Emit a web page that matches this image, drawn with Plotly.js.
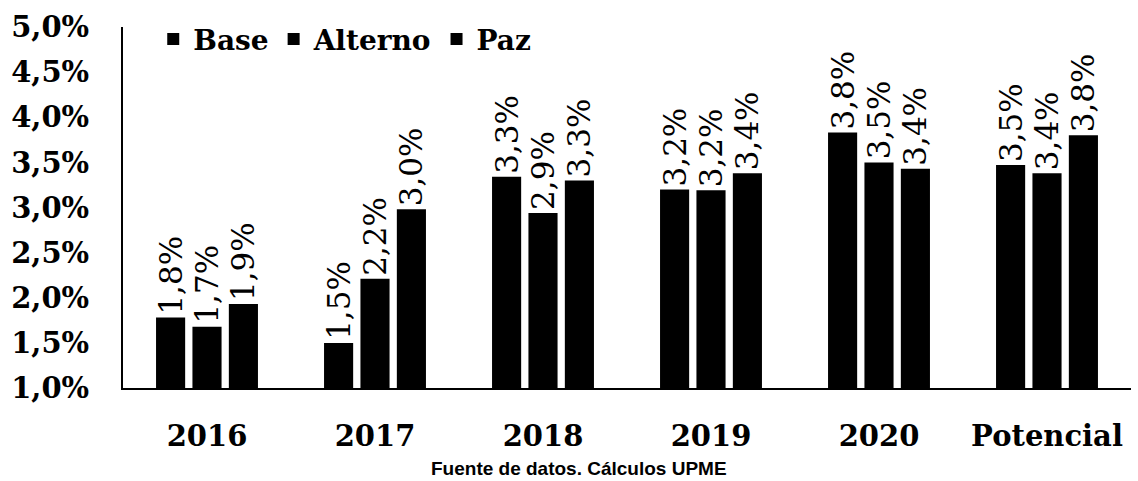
<!DOCTYPE html>
<html>
<head>
<meta charset="utf-8">
<script src="https://cdn.plot.ly/plotly-3.0.1.min.js"></script>
<style>
  html, body { margin: 0; padding: 0; background: #fff; }
  #chart { width: 1138px; height: 481px; }
</style>
</head>
<body>
<div id="chart"></div>
<script>
// categories and values (% growth)
var years = ["2016", "2017", "2018", "2019", "2020", "Potencial"];
var base = [1.78, 1.50, 3.34, 3.20, 3.83, 3.47];
var alterno = [1.68, 2.21, 2.94, 3.19, 3.50, 3.38];
var paz = [1.93, 2.98, 3.30, 3.38, 3.43, 3.80];
var seriesNames = ["Base", "Alterno", "Paz"];

var serifBold = { family: "DejaVu Serif", size: 29, color: "#000", weight: "bold" };
var legendFont = { family: "DejaVu Serif", size: 28, color: "#000", weight: "bold" };
var labelFont = { family: "DejaVu Serif", size: 31, color: "#000" };

function makeBar(name, vals) {
  return {
    type: "bar",
    name: name,
    x: years,
    y: vals,
    marker: { color: "#000" },
    texttemplate: "%{y:.1f}%",
    textposition: "outside",
    textangle: -90,
    textfont: labelFont,
    constraintext: "none",
    cliponaxis: false,
    hoverinfo: "none"
  };
}

var data = [
  makeBar(seriesNames[0], base),
  makeBar(seriesNames[1], alterno),
  makeBar(seriesNames[2], paz)
];

var layout = {
  width: 1138,
  height: 481,
  margin: { l: 123, r: 7, t: 27, b: 93 },
  paper_bgcolor: "#fff",
  plot_bgcolor: "#fff",
  separators: ",.",
  barmode: "group",
  bargap: 0.35,
  bargroupgap: 0.2,
  showlegend: true,
  legend: {
    orientation: "h",
    x: 0.03, xanchor: "left",
    y: 1.035, yanchor: "top",
    font: legendFont,
    bgcolor: "rgba(0,0,0,0)",
    traceorder: "normal"
  },
  xaxis: {
    type: "category",
    showline: true, linecolor: "#000", linewidth: 2,
    showgrid: false, ticks: "",
    tickfont: serifBold,
    ticklabelstandoff: 21
  },
  yaxis: {
    range: [1, 5],
    dtick: 0.5,
    tickformat: ".1f",
    ticksuffix: "%",
    showline: true, linecolor: "#000", linewidth: 2,
    showgrid: false, zeroline: false, ticks: "",
    tickfont: serifBold,
    ticklabelstandoff: 26
  },
  annotations: [{
    text: "Fuente de datos. Cálculos UPME",
    xref: "paper", yref: "paper",
    x: 0.452, y: -0.222,
    xanchor: "center", yanchor: "middle",
    showarrow: false,
    font: { family: "Liberation Sans", size: 19, color: "#000", weight: "bold" }
  }]
};

Plotly.newPlot("chart", data, layout, { staticPlot: true });
</script>
</body>
</html>
